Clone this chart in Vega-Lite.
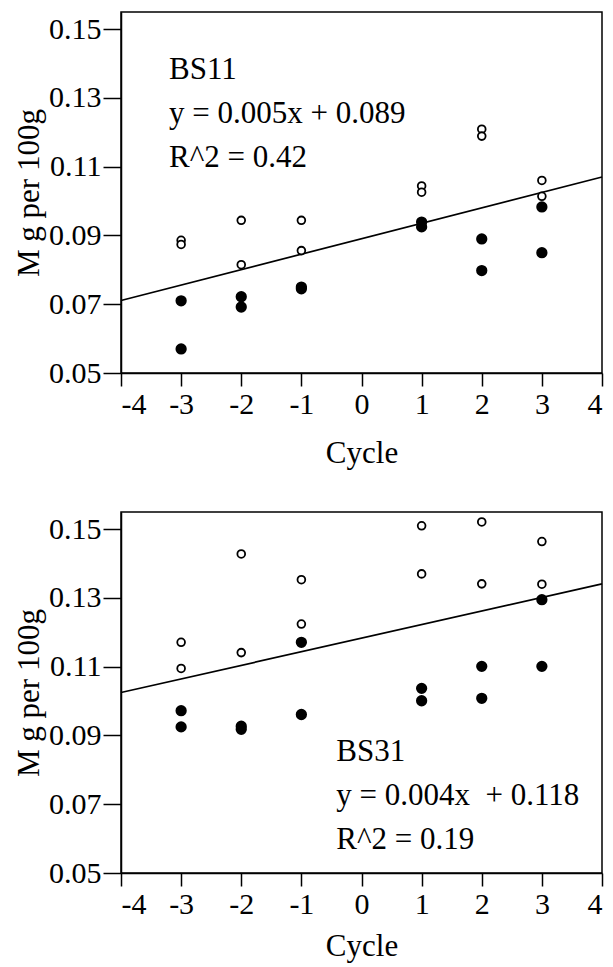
{
  "$schema": "https://vega.github.io/schema/vega-lite/v6.json",
  "padding": {"left": 12, "top": 11, "right": 8, "bottom": 2},
  "spacing": 42,
  "datasets": {
    "points": [
      {"panel": "BS11", "cycle": -3, "value": 0.0886, "type": "open"},
      {"panel": "BS11", "cycle": -3, "value": 0.0874, "type": "open"},
      {"panel": "BS11", "cycle": -3, "value": 0.0710, "type": "filled"},
      {"panel": "BS11", "cycle": -3, "value": 0.0570, "type": "filled"},
      {"panel": "BS11", "cycle": -2, "value": 0.0944, "type": "open"},
      {"panel": "BS11", "cycle": -2, "value": 0.0815, "type": "open"},
      {"panel": "BS11", "cycle": -2, "value": 0.0722, "type": "filled"},
      {"panel": "BS11", "cycle": -2, "value": 0.0692, "type": "filled"},
      {"panel": "BS11", "cycle": -1, "value": 0.0944, "type": "open"},
      {"panel": "BS11", "cycle": -1, "value": 0.0856, "type": "open"},
      {"panel": "BS11", "cycle": -1, "value": 0.0750, "type": "filled"},
      {"panel": "BS11", "cycle": -1, "value": 0.0745, "type": "filled"},
      {"panel": "BS11", "cycle": 1, "value": 0.1044, "type": "open"},
      {"panel": "BS11", "cycle": 1, "value": 0.1026, "type": "open"},
      {"panel": "BS11", "cycle": 1, "value": 0.0939, "type": "filled"},
      {"panel": "BS11", "cycle": 1, "value": 0.0925, "type": "filled"},
      {"panel": "BS11", "cycle": 2, "value": 0.1209, "type": "open"},
      {"panel": "BS11", "cycle": 2, "value": 0.1189, "type": "open"},
      {"panel": "BS11", "cycle": 2, "value": 0.0890, "type": "filled"},
      {"panel": "BS11", "cycle": 2, "value": 0.0798, "type": "filled"},
      {"panel": "BS11", "cycle": 3, "value": 0.1060, "type": "open"},
      {"panel": "BS11", "cycle": 3, "value": 0.1014, "type": "open"},
      {"panel": "BS11", "cycle": 3, "value": 0.0983, "type": "filled"},
      {"panel": "BS11", "cycle": 3, "value": 0.0850, "type": "filled"},
      {"panel": "BS31", "cycle": -3, "value": 0.1171, "type": "open"},
      {"panel": "BS31", "cycle": -3, "value": 0.1095, "type": "open"},
      {"panel": "BS31", "cycle": -3, "value": 0.0972, "type": "filled"},
      {"panel": "BS31", "cycle": -3, "value": 0.0925, "type": "filled"},
      {"panel": "BS31", "cycle": -2, "value": 0.1428, "type": "open"},
      {"panel": "BS31", "cycle": -2, "value": 0.1141, "type": "open"},
      {"panel": "BS31", "cycle": -2, "value": 0.0927, "type": "filled"},
      {"panel": "BS31", "cycle": -2, "value": 0.0918, "type": "filled"},
      {"panel": "BS31", "cycle": -1, "value": 0.1353, "type": "open"},
      {"panel": "BS31", "cycle": -1, "value": 0.1224, "type": "open"},
      {"panel": "BS31", "cycle": -1, "value": 0.1171, "type": "filled"},
      {"panel": "BS31", "cycle": -1, "value": 0.0961, "type": "filled"},
      {"panel": "BS31", "cycle": 1, "value": 0.1510, "type": "open"},
      {"panel": "BS31", "cycle": 1, "value": 0.1370, "type": "open"},
      {"panel": "BS31", "cycle": 1, "value": 0.1037, "type": "filled"},
      {"panel": "BS31", "cycle": 1, "value": 0.1001, "type": "filled"},
      {"panel": "BS31", "cycle": 2, "value": 0.1521, "type": "open"},
      {"panel": "BS31", "cycle": 2, "value": 0.1341, "type": "open"},
      {"panel": "BS31", "cycle": 2, "value": 0.1101, "type": "filled"},
      {"panel": "BS31", "cycle": 2, "value": 0.1008, "type": "filled"},
      {"panel": "BS31", "cycle": 3, "value": 0.1464, "type": "open"},
      {"panel": "BS31", "cycle": 3, "value": 0.1340, "type": "open"},
      {"panel": "BS31", "cycle": 3, "value": 0.1295, "type": "filled"},
      {"panel": "BS31", "cycle": 3, "value": 0.1101, "type": "filled"}
    ],
    "fits": [
      {"panel": "BS11", "cycle": -4, "value": 0.0711},
      {"panel": "BS11", "cycle": 4, "value": 0.1070},
      {"panel": "BS31", "cycle": -4, "value": 0.1025},
      {"panel": "BS31", "cycle": 4, "value": 0.1341}
    ],
    "notes": [
      {"panel": "BS11", "cycle": -3.2, "value": 0.1354, "lines": ["BS11", "y = 0.005x + 0.089", "R^2 = 0.42"]},
      {"panel": "BS31", "cycle": -0.42, "value": 0.0826, "lines": ["BS31", "y = 0.004x\u00a0 + 0.118", "R^2 = 0.19"]}
    ]
  },
  "config": {
    "font": "Liberation Serif",
    "view": {"stroke": "black", "strokeWidth": 1.5},
    "axis": {
      "labelFont": "Liberation Serif",
      "labelFontSize": 30,
      "labelColor": "black",
      "titleFont": "Liberation Serif",
      "titleFontSize": 31,
      "titleFontWeight": "normal",
      "titleColor": "black",
      "domainColor": "black",
      "domainWidth": 1.5,
      "tickColor": "black",
      "tickWidth": 1.5,
      "grid": false
    }
  },
  "vconcat": [
    {
      "width": 481,
      "height": 361,
      "layer": [
        {
          "data": {"name": "fits"},
          "transform": [{"filter": "datum.panel === 'BS11'"}],
          "mark": {"type": "line", "color": "black", "strokeWidth": 1.7},
          "encoding": {
            "x": {"field": "cycle", "type": "quantitative"},
            "y": {"field": "value", "type": "quantitative"}
          }
        },
        {
          "data": {"name": "points"},
          "transform": [{"filter": "datum.panel === 'BS11'"}],
          "mark": {"type": "point", "shape": "circle", "strokeWidth": 1.8, "opacity": 1},
          "encoding": {
            "x": {
              "field": "cycle", "type": "quantitative",
              "scale": {"domain": [-4, 4], "nice": false, "zero": false},
              "axis": {"title": "Cycle", "values": [-4, -3, -2, -1, 0, 1, 2, 3, 4], "tickSize": 13, "labelPadding": 3, "titlePadding": 19,
                "labelExpr": "datum.value < 0 ? '-' + abs(datum.value) : '' + datum.value"}
            },
            "y": {
              "field": "value", "type": "quantitative",
              "scale": {"domain": [0.05, 0.155], "nice": false, "zero": false},
              "axis": {"title": "M g per 100g", "values": [0.05, 0.06, 0.07, 0.08, 0.09, 0.1, 0.11, 0.12, 0.13, 0.14, 0.15], "tickSize": 18, "labelPadding": 2, "titlePadding": 3,
                "labelExpr": "round(datum.value * 100) % 2 == 1 ? format(datum.value, '.2f') : ''"}
            },
            "fill": {"field": "type", "type": "nominal", "scale": {"domain": ["open", "filled"], "range": ["white", "black"]}, "legend": null},
            "size": {"field": "type", "type": "nominal", "scale": {"domain": ["open", "filled"], "range": [60, 90]}, "legend": null},
            "color": {"value": "black"}
          }
        },
        {
          "data": {"name": "notes"},
          "transform": [{"filter": "datum.panel === 'BS11'"}],
          "mark": {"type": "text", "font": "Liberation Serif", "fontSize": 31, "lineHeight": 44, "align": "left", "baseline": "alphabetic", "color": "black"},
          "encoding": {
            "x": {"field": "cycle", "type": "quantitative"},
            "y": {"field": "value", "type": "quantitative"},
            "text": {"field": "lines"}
          }
        }
      ]
    },
    {
      "width": 481,
      "height": 361,
      "layer": [
        {
          "data": {"name": "fits"},
          "transform": [{"filter": "datum.panel === 'BS31'"}],
          "mark": {"type": "line", "color": "black", "strokeWidth": 1.7},
          "encoding": {
            "x": {"field": "cycle", "type": "quantitative"},
            "y": {"field": "value", "type": "quantitative"}
          }
        },
        {
          "data": {"name": "points"},
          "transform": [{"filter": "datum.panel === 'BS31'"}],
          "mark": {"type": "point", "shape": "circle", "strokeWidth": 1.8, "opacity": 1},
          "encoding": {
            "x": {
              "field": "cycle", "type": "quantitative",
              "scale": {"domain": [-4, 4], "nice": false, "zero": false},
              "axis": {"title": "Cycle", "values": [-4, -3, -2, -1, 0, 1, 2, 3, 4], "tickSize": 13, "labelPadding": 3, "titlePadding": 12,
                "labelExpr": "datum.value < 0 ? '-' + abs(datum.value) : '' + datum.value"}
            },
            "y": {
              "field": "value", "type": "quantitative",
              "scale": {"domain": [0.05, 0.155], "nice": false, "zero": false},
              "axis": {"title": "M g per 100g", "values": [0.05, 0.06, 0.07, 0.08, 0.09, 0.1, 0.11, 0.12, 0.13, 0.14, 0.15], "tickSize": 18, "labelPadding": 2, "titlePadding": 3,
                "labelExpr": "round(datum.value * 100) % 2 == 1 ? format(datum.value, '.2f') : ''"}
            },
            "fill": {"field": "type", "type": "nominal", "scale": {"domain": ["open", "filled"], "range": ["white", "black"]}, "legend": null},
            "size": {"field": "type", "type": "nominal", "scale": {"domain": ["open", "filled"], "range": [60, 90]}, "legend": null},
            "color": {"value": "black"}
          }
        },
        {
          "data": {"name": "notes"},
          "transform": [{"filter": "datum.panel === 'BS31'"}],
          "mark": {"type": "text", "font": "Liberation Serif", "fontSize": 31, "lineHeight": 44, "align": "left", "baseline": "alphabetic", "color": "black"},
          "encoding": {
            "x": {"field": "cycle", "type": "quantitative"},
            "y": {"field": "value", "type": "quantitative"},
            "text": {"field": "lines"}
          }
        }
      ]
    }
  ]
}
